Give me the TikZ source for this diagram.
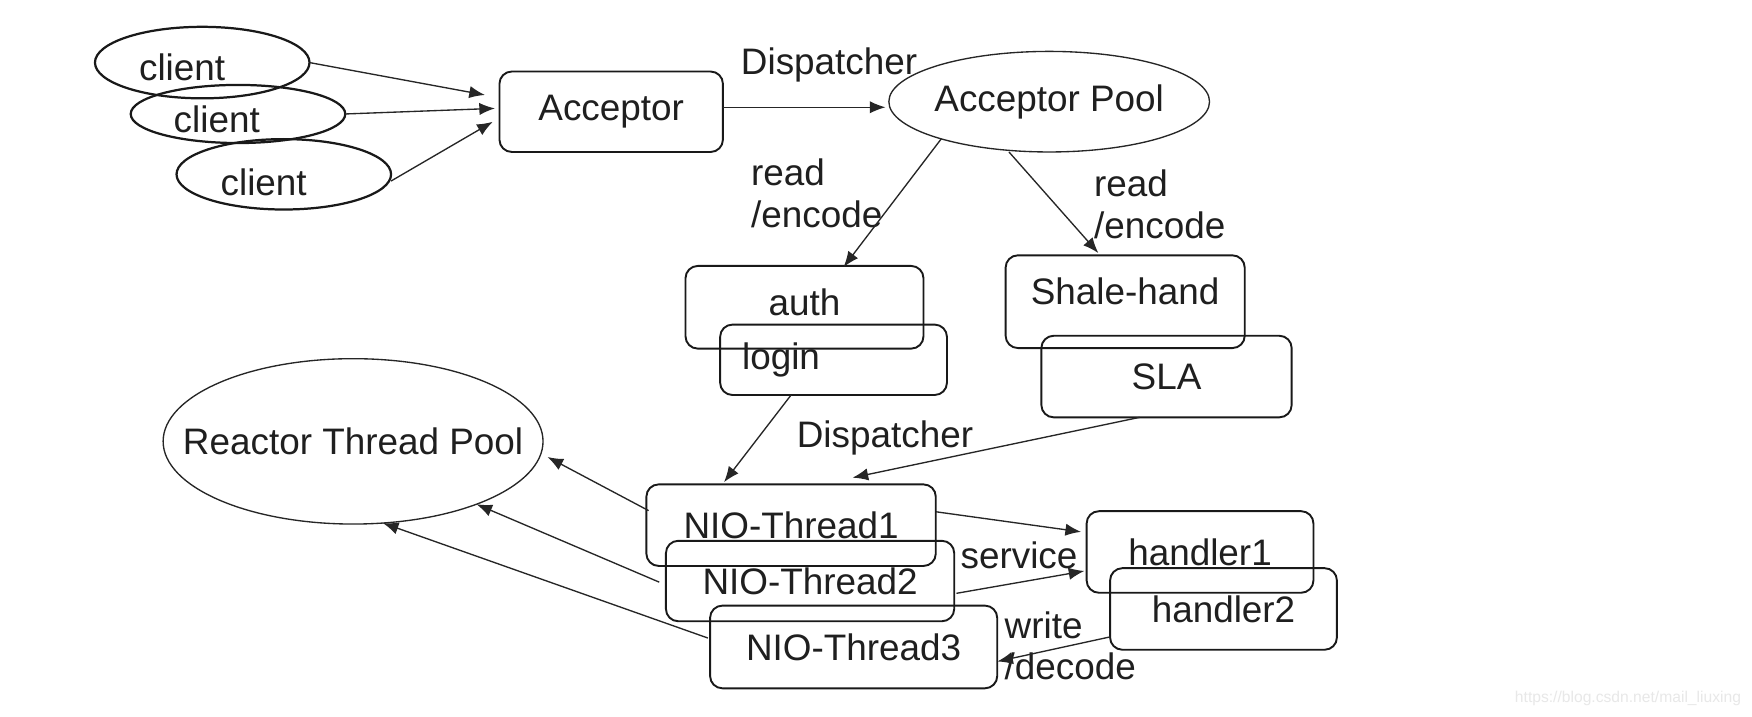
\documentclass[tikz,border=0pt]{standalone}
\usepackage{fontspec}
\setmainfont{Liberation Sans}
\usetikzlibrary{shapes.geometric, arrows.meta}
\tikzstyle{client} = [ellipse, draw=black!90, line width=2pt, minimum width=192pt, outer sep=0pt]
\tikzstyle{pool} = [ellipse, draw=black!85, line width=1.2pt, outer sep=0pt]
\tikzstyle{process} = [rectangle, rounded corners=11pt, draw=black!90, line width=1.7pt, outer sep=0pt, text centered]
\tikzstyle{arrow} = [line width=1.2pt, draw=black!85, ->, >={Latex[length=14pt,width=11pt]}]
\tikzstyle{lbl} = [inner sep=0pt, align=left]

\begin{document}
\begin{tikzpicture}[x=1pt, y=-1pt, font=\fontsize{33}{37}\selectfont, text=black!88]

    \useasboundingbox (0,0) rectangle (1568,641);
    \fill[white] (0,0) rectangle (1568,641);

    % Nodes
    \node (c1) [client, minimum height=64pt, label={[xshift=-18pt, yshift=-4pt]center:client}] at (181,56) {};
    \node (c2) [client, minimum height=52pt, label={[xshift=-19pt, yshift=-5pt]center:client}] at (213,102) {};
    \node (c3) [client, minimum height=63pt, label={[xshift=-18pt, yshift=-7pt]center:client}] at (254,156) {};
    \node (acc) [process, minimum width=200pt, minimum height=72pt] at (547,100) {Acceptor};
    \node (pool) [pool, minimum width=287pt, minimum height=90pt, label=center:Acceptor Pool] at (939,91) {};
    \node (auth) [process, minimum width=213pt, minimum height=74pt, label={[yshift=4pt]center:auth}] at (720,275) {};
    \node (login) [process, minimum width=203pt, minimum height=63pt, label={[xshift=-47pt]center:login}] at (746,322) {};
    \node (shale) [process, minimum width=214pt, minimum height=83pt, label={[yshift=9pt]center:Shale-hand}] at (1007,270) {};
    \node (sla) [process, minimum width=224pt, minimum height=73pt] at (1044,337) {SLA};
    \node (rtp) [pool, minimum width=340pt, minimum height=148pt, label=center:Reactor Thread Pool] at (316,395) {};
    \node (nio1) [process, minimum width=259pt, minimum height=73pt] at (708,470) {NIO-Thread1};
    \node (nio2) [process, minimum width=258pt, minimum height=72pt] at (725,520) {NIO-Thread2};
    \node (nio3) [process, minimum width=257pt, minimum height=74pt] at (764,579) {NIO-Thread3};
    \node (h1) [process, minimum width=203pt, minimum height=73pt] at (1074,494) {handler1};
    \node (h2) [process, minimum width=203pt, minimum height=73pt] at (1095,545) {handler2};

    % Labels
    \node (dispA) [lbl] at (742,58) {Dispatcher};
    \node (readA) [lbl, anchor=west] at (672,173) {read\\/encode};
    \node (readB) [lbl, anchor=west] at (979,183) {read\\/encode};
    \node (dispB) [lbl] at (792,392) {Dispatcher};
    \node (service) [lbl] at (912,497) {service};
    \node (write) [lbl, anchor=west] at (899,578) {write\\/decode};
    \node (mark) [lbl, font=\fontsize{14}{16}\selectfont, text=black!9] at (1457,625) {https://blog.csdn.net/mail\_liuxing};

    % Arrows
    \draw [arrow] (c1.east) -- ([shift={(-13,-15)}]acc.west);
    \draw [arrow] (c2.east) -- ([shift={(-4,-3)}]acc.west);
    \draw [arrow] ([shift={(0,6)}]c3.east) -- ([shift={(-6,9)}]acc.west);
    \draw [arrow] ([shift={(0,-4)}]acc.east) -- ([shift={(-3,5)}]pool.west);
    \draw [arrow] (pool.199) -- ([shift={(35,1)}]auth.north);
    \draw [arrow] ([shift={(-36,0)}]pool.south) -- ([shift={(-24,-2)}]shale.north);
    \draw [arrow] ([shift={(-38,0)}]login.south) -- ([shift={(-60,-2)}]nio1.north);
    \draw [arrow] ([shift={(-24,0)}]sla.south) -- ([shift={(55,-6)}]nio1.north);
    \draw [arrow] ([shift={(2,-13)}]nio1.west) -- ([shift={(4,14)}]rtp.east);
    \draw [arrow] ([shift={(-6,1)}]nio2.west) -- (rtp.-27);
    \draw [arrow] ([shift={(-2,-8)}]nio3.west) -- (rtp.-70);
    \draw [arrow] ([shift={(0,-12)}]nio1.east) -- ([shift={(-5,-18)}]h1.west);
    \draw [arrow] ([shift={(2,11)}]nio2.east) -- ([shift={(-2,17)}]h1.west);
    \draw [arrow] ([shift={(0,25)}]h2.west) -- ([shift={(0,13)}]nio3.east);
\end{tikzpicture}
\end{document}
